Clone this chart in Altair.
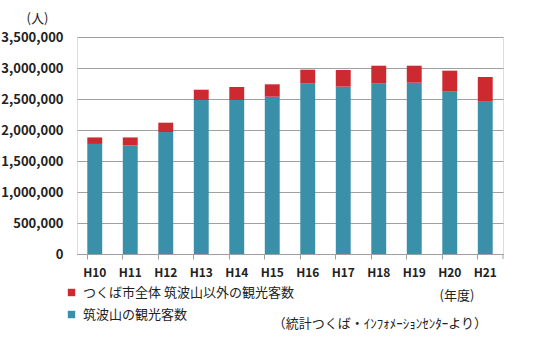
import altair as alt
import pandas as pd

years = ["H10", "H11", "H12", "H13", "H14", "H15", "H16", "H17", "H18", "H19", "H20", "H21"]
mountain = [1775000, 1750000, 1968000, 2484000, 2484000, 2537000, 2753000, 2699000, 2753000, 2763000, 2618000, 2456000]
other = [105000, 130000, 150000, 166000, 210000, 200000, 220000, 269000, 284000, 274000, 339000, 399000]

name_other = "つくば市全体 筑波山以外の観光客数"
name_mtn = "筑波山の観光客数"
colors = ["#cc2a30", "#3a90a8"]

rows = []
for y, m, o in zip(years, mountain, other):
    rows.append({"year": y, "series": name_mtn, "value": m, "ord": 0})
    rows.append({"year": y, "series": name_other, "value": o, "ord": 1})
df = pd.DataFrame(rows)

FONT = "Noto Sans CJK JP"

bars = alt.Chart(df).mark_bar().encode(
    x=alt.X("year:N", sort=years, title=None,
            scale=alt.Scale(paddingInner=0.58, paddingOuter=0.29),
            axis=alt.Axis(labelAngle=0, bandPosition=0, tickSize=5, tickColor="#a0a0a0",
                          domainColor="#a0a0a0", labelFont=FONT, labelFontSize=12,
                          labelFontWeight="bold", labelColor="#222222", labelPadding=8)),
    y=alt.Y("value:Q", stack="zero", title="(人)",
            scale=alt.Scale(domain=[0, 3500000]),
            axis=alt.Axis(values=[0, 500000, 1000000, 1500000, 2000000, 2500000, 3000000, 3500000],
                          format=",.0f", domain=False, ticks=False, gridColor="#a0a0a0",
                          labelFont=FONT, labelFontSize=13, labelFontWeight="bold",
                          labelColor="#222222", labelPadding=14,
                          titleAngle=0, titleX=-40, titleY=-12, titleFont=FONT, titleFontSize=13,
                          titleFontWeight="normal", titleColor="#222222", titleAlign="center")),
    color=alt.Color("series:N", scale=alt.Scale(domain=[name_other, name_mtn], range=colors),
                    legend=alt.Legend(title=None, orient="none", legendX=-12, legendY=249,
                                      symbolType="square", symbolSize=55, symbolStrokeWidth=0,
                                      labelFont=FONT, labelFontSize=13, labelColor="#222222",
                                      labelLimit=0, rowPadding=8, labelOffset=5)),
    order=alt.Order("ord:Q"),
)

note = pd.DataFrame({"t": ["(年度)"]})
t1 = alt.Chart(note).mark_text(font=FONT, fontSize=13, color="#222222", align="center").encode(
    x=alt.value(380), y=alt.value(259), text="t:N")
note2 = pd.DataFrame({"t": ["（統計つくば・ｲﾝﾌｫﾒｰｼｮﾝｾﾝﾀｰより）"]})
t2 = alt.Chart(note2).mark_text(font=FONT, fontSize=13, color="#222222", align="right").encode(
    x=alt.value(410), y=alt.value(287), text="t:N")
endtick = alt.Chart(note).mark_rule(color="#a0a0a0").encode(
    x=alt.value(426), y=alt.value(217), y2=alt.value(222))

chart = alt.layer(bars, t1, t2, endtick).properties(
    width=426, height=217,
    autosize=alt.AutoSizeParams(type="none"),
    padding={"left": 77, "top": 37, "right": 43, "bottom": 88},
).configure_view(stroke=None).configure(background="white")

chart.save("out.html", embed_options={"renderer": "svg", "actions": False})
